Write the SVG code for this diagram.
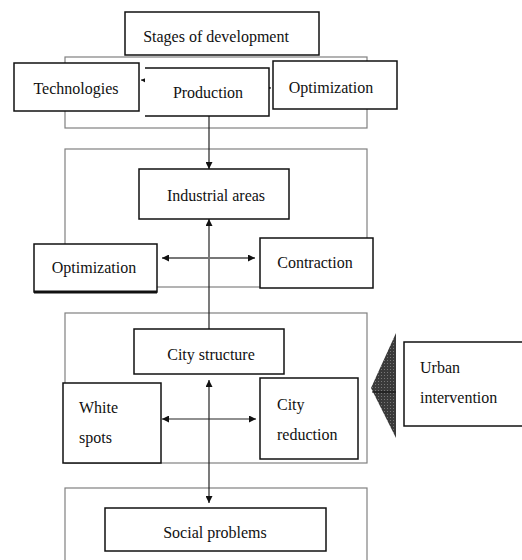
<svg xmlns="http://www.w3.org/2000/svg" width="522" height="560" viewBox="0 0 522 560">
<style>
text{font-family:'Liberation Serif','Times New Roman',serif;font-size:16px;fill:#111}
.box{fill:#fff;stroke:#111;stroke-width:1.5}
.cont{fill:none;stroke:#808080;stroke-width:1.2}
.ln{fill:none;stroke:#222;stroke-width:1.2}
.c{text-anchor:middle}
</style>
<defs>
<marker id="ah" viewBox="0 0 10 10" refX="10" refY="5" markerWidth="7" markerHeight="7" orient="auto-start-reverse" markerUnits="userSpaceOnUse">
<path d="M0,0 L10,5 L0,10 z" fill="#111"/>
</marker>
<pattern id="hatch" width="3" height="3" patternUnits="userSpaceOnUse">
<rect width="3" height="3" fill="#3a3a3a"/>
<rect width="1" height="1" fill="#777"/>
</pattern>
</defs>
<g id="containers">
<rect class="cont" x="65" y="57" width="302" height="71"/>
<rect class="cont" x="65" y="149" width="302" height="138"/>
<rect class="cont" x="65" y="313" width="302" height="150"/>
<rect class="cont" x="65" y="488" width="302" height="80"/>
</g>
<g id="connectors">
<line class="ln" x1="141" y1="80" x2="271" y2="88" marker-start="url(#ah)" marker-end="url(#ah)"/>
<line class="ln" x1="209" y1="116" x2="209" y2="169" marker-end="url(#ah)"/>
<line class="ln" x1="209" y1="329" x2="209" y2="219" marker-end="url(#ah)"/>
<line x1="162" y1="258" x2="255" y2="258" stroke="#777" stroke-width="2" marker-start="url(#ah)" marker-end="url(#ah)"/>
<line class="ln" x1="162" y1="419" x2="256" y2="419" marker-start="url(#ah)" marker-end="url(#ah)"/>
<line class="ln" x1="209" y1="380" x2="209" y2="503" marker-start="url(#ah)" marker-end="url(#ah)"/>
</g>
<g id="stages">
<rect class="box" x="125" y="12" width="194" height="43"/>
<text class="c" x="216" y="42">Stages of development</text>
</g>
<g id="technologies">
<rect class="box" x="14" y="63" width="125" height="48"/>
<text class="c" x="76" y="94">Technologies</text>
</g>
<g id="production">
<rect x="145" y="68" width="124" height="48" fill="#fff"/>
<path d="M145,68 H269 V116 H145" fill="none" stroke="#111" stroke-width="1.5"/>
<text class="c" x="208" y="98">Production</text>
</g>
<g id="optimization-top">
<rect class="box" x="273" y="61" width="124" height="48"/>
<text class="c" x="331" y="93">Optimization</text>
</g>
<g id="industrial">
<rect class="box" x="139" y="169" width="150" height="50"/>
<text class="c" x="216" y="201">Industrial areas</text>
</g>
<g id="optimization">
<rect class="box" x="34" y="244" width="123" height="48"/>
<line x1="34" y1="292" x2="157" y2="292" stroke="#111" stroke-width="3"/>
<text class="c" x="94" y="273">Optimization</text>
</g>
<g id="contraction">
<rect class="box" x="260" y="238" width="113" height="50"/>
<text class="c" x="315" y="268">Contraction</text>
</g>
<g id="city-structure">
<rect class="box" x="134" y="329" width="150" height="45"/>
<text class="c" x="211" y="360">City structure</text>
</g>
<g id="white-spots">
<rect class="box" x="63" y="383" width="98" height="80"/>
<text x="79" y="413">White</text>
<text x="79" y="443">spots</text>
</g>
<g id="city-reduction">
<rect class="box" x="260" y="378" width="98" height="81"/>
<text x="277" y="410">City</text>
<text x="277" y="440">reduction</text>
</g>
<g id="social-problems">
<rect class="box" x="105" y="508" width="221" height="43"/>
<text class="c" x="215" y="538">Social problems</text>
</g>
<g id="urban-intervention">
<path d="M371,388 L396,333 L396,438 Z" fill="url(#hatch)"/>
<line x1="372" y1="392" x2="396" y2="392" stroke="#111" stroke-width="1"/>
<rect class="box" x="404" y="342" width="130" height="84"/>
<text x="420" y="373">Urban</text>
<text x="420" y="403">intervention</text>
</g>
</svg>
